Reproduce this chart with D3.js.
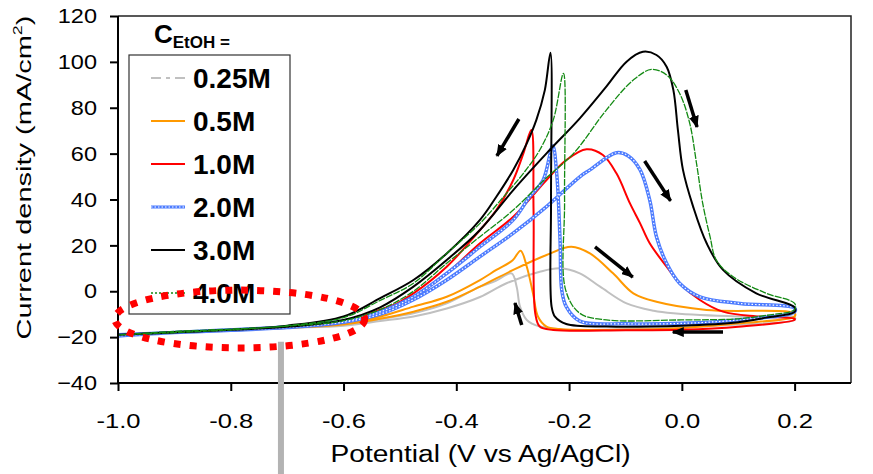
<!DOCTYPE html>
<html lang="en">
<head>
<meta charset="UTF-8">
<title>CV EtOH</title>
<script src="https://cdnjs.cloudflare.com/ajax/libs/d3/7.8.5/d3.min.js"></script>
<style>
  body { margin: 0; background: #fff; }
  svg { font-family: "Liberation Sans", Arial, sans-serif; }
  .axis path, .axis line { stroke: #000; stroke-width: 2; }
  .axis text { font-size: 21px; fill: #000; }
</style>
</head>
<body>
<svg id="chart" width="873" height="474"></svg>
<script>
// [potential V, current density mA/cm2], forward scan then reverse scan
var c025 = [[-1.0,-19.5],[-0.9,-18],[-0.8,-17],[-0.7,-16],[-0.6,-15],[-0.535,-13],[-0.476,-11],[-0.417,-7.5],
  [-0.358,-2.5],[-0.311,3.5],[-0.252,8.5],[-0.216,10],[-0.181,7.8],[-0.145,2],[-0.098,-5.3],[-0.05,-8.5],
  [-0.015,-9.6],[0.1,-11],[0.2,-11.3],
  [0.2,-12.5],[0.1,-14.5],[0.0,-15.8],[-0.1,-16.5],[-0.2,-16.9],[-0.228,-16.2],[-0.252,-15.4],[-0.275,-12.5],
  [-0.287,-6.7],[-0.293,2],[-0.302,7.8],[-0.33,4.5],[-0.358,2],[-0.417,-5.3],[-0.476,-9.6],[-0.535,-12],
  [-0.6,-14.5],[-0.7,-16],[-0.8,-17.2],[-0.9,-18.2],[-1.0,-19.5]];
var c05 = [[-1.0,-19.5],[-0.9,-18],[-0.8,-17],[-0.7,-16],[-0.6,-14.5],[-0.535,-12],[-0.476,-8.9],[-0.417,-4.6],
  [-0.358,2],[-0.299,9.3],[-0.24,15.8],[-0.196,19.4],[-0.163,16.5],[-0.122,7.8],[-0.086,-0.9],[-0.045,-4.6],
  [0.044,-8.2],[0.2,-9.6],
  [0.2,-11],[0.1,-14],[0.0,-16],[-0.1,-16.8],[-0.217,-16.5],[-0.24,-15.4],[-0.255,-11.1],[-0.264,-0.9],
  [-0.275,10.7],[-0.286,17.7],[-0.3,13.5],[-0.329,9.3],[-0.358,4.9],[-0.417,-2.4],[-0.476,-6.7],[-0.535,-11],
  [-0.6,-14],[-0.7,-15.8],[-0.8,-17],[-0.9,-18],[-1.0,-19]];
var c10 = [[-1.0,-19.5],[-0.9,-18],[-0.8,-17],[-0.7,-15.8],[-0.6,-13.5],[-0.535,-8],[-0.476,-2.4],[-0.417,7.8],
  [-0.358,20.9],[-0.299,32.5],[-0.24,48.5],[-0.205,57.2],[-0.169,61.9],[-0.14,59.4],[-0.116,51.4],[-0.092,38.3],
  [-0.074,29.6],[-0.057,20.9],[-0.027,10.7],[-0.004,3.5],[0.032,-3.8],[0.073,-8.9],[0.132,-11],[0.2,-12],
  [0.2,-12.5],[0.1,-15.5],[0.0,-16.8],[-0.1,-17],[-0.228,-16.9],[-0.252,-15.4],[-0.26,-9.6],[-0.263,35],
  [-0.267,70.3],[-0.281,60.1],[-0.299,48.5],[-0.329,35.4],[-0.358,26.7],[-0.417,10.7],[-0.476,-0.9],[-0.535,-9],
  [-0.6,-13],[-0.7,-15.5],[-0.8,-17],[-0.9,-18],[-1.0,-19]];
var c20 = [[-1.0,-19.5],[-0.9,-18],[-0.8,-17],[-0.7,-15.8],[-0.6,-13.5],[-0.535,-10],[-0.476,-3.7],[-0.417,4.9],
  [-0.358,15.1],[-0.299,25.3],[-0.24,36.9],[-0.181,49.9],[-0.163,52.9],[-0.116,60.4],[-0.095,59],[-0.074,52.9],
  [-0.057,39.8],[-0.045,23.8],[-0.027,12.2],[-0.004,3.5],[0.032,-2.4],[0.103,-5.3],[0.2,-7.4],
  [0.2,-9],[0.1,-12.5],[0.0,-14],[-0.1,-14.2],[-0.181,-13],[-0.205,-6.7],[-0.213,0.5],[-0.216,22.3],
  [-0.222,51.4],[-0.229,63.3],[-0.246,48.5],[-0.27,41.2],[-0.299,31.1],[-0.358,19.4],[-0.417,7.8],[-0.476,-2.4],
  [-0.535,-9],[-0.6,-13],[-0.7,-15.5],[-0.8,-16.8],[-0.9,-18],[-1.0,-19]];
var c30 = [[-1.0,-19],[-0.9,-17.8],[-0.8,-16.8],[-0.7,-15.5],[-0.6,-12.5],[-0.535,-7],[-0.476,2],[-0.417,13.6],
  [-0.358,26.7],[-0.299,44.1],[-0.24,60.1],[-0.181,75.4],[-0.134,89.2],[-0.098,100.1],[-0.069,104.4],[-0.045,103],
  [-0.027,97.9],[-0.015,87.7],[-0.007,70.3],[0.002,52.9],[0.02,36.9],[0.044,20.9],[0.073,9.3],[0.132,-0.9],[0.2,-7],
  [0.2,-9],[0.15,-11.5],[0.1,-13.5],[0.0,-15],[-0.134,-15.4],[-0.205,-14.3],[-0.225,-11.1],[-0.231,-6.7],
  [-0.232,40],[-0.233,104],[-0.243,87.7],[-0.258,74.7],[-0.275,64.5],[-0.299,52.9],[-0.329,41.2],[-0.358,31.1],
  [-0.417,16.5],[-0.476,4.9],[-0.535,-3],[-0.6,-11],[-0.7,-15],[-0.8,-16.8],[-0.9,-18],[-1.0,-19]];
var c40 = [[-1.0,-19],[-0.9,-17.5],[-0.8,-16.5],[-0.7,-15.2],[-0.6,-12.8],[-0.535,-8],[-0.476,0],[-0.417,12.2],
  [-0.358,23.8],[-0.299,35.4],[-0.24,49.5],[-0.192,60.1],[-0.134,79],[-0.086,92.1],[-0.054,96.7],[-0.027,94.3],
  [-0.004,86.3],[0.014,73.2],[0.026,55.8],[0.037,38.3],[0.05,23.8],[0.061,13.6],[0.091,6.3],[0.15,-0.9],[0.2,-5.3],
  [0.2,-8],[0.15,-10.5],[0.1,-12],[0.0,-12.5],[-0.134,-12.5],[-0.181,-9.6],[-0.206,0.5],[-0.208,40],[-0.21,95],
  [-0.228,74.7],[-0.252,61.6],[-0.281,51.4],[-0.311,42.7],[-0.358,29.6],[-0.417,16.5],[-0.476,3.5],[-0.535,-4],
  [-0.6,-11.5],[-0.7,-15],[-0.8,-16.8],[-0.9,-18],[-1.0,-19]];

var seriesData = [c025, c05, c10, c20, c30, c40];
var seriesNames = ['0.25M', '0.5M', '1.0M', '2.0M', '3.0M', '4.0M'];
var xTicks = [-1.0, -0.8, -0.6, -0.4, -0.2, 0.0, 0.2];
var yTicks = [-40, -20, 0, 20, 40, 60, 80, 100, 120];

// scan direction arrows [from, to] in data units
var arrows = [
  [[-0.289, 75.1], [-0.328, 59.0]],
  [[0.007, 87.7], [0.027, 71.6]],
  [[-0.066, 56.8], [-0.020, 39.4]],
  [[-0.154, 19.3], [-0.087, 6.2]],
  [[0.073, -17.8], [-0.016, -17.8]],
  [[-0.284, -14.7], [-0.296, -5.1]]
];
// highlighted region (centre, half widths) and pointer position
var ellipseC = [-0.784, -12.1], ellipseR = [0.2216, 12.6];
var pointerX = -0.711, pointerY = -22;

(function () {
  var svg = d3.select('#chart');
  var W = +svg.attr('width'), H = +svg.attr('height');
  var margin = {top: 16, right: 22, bottom: 91, left: 118};

  var x = d3.scaleLinear().domain([-1.0, 0.3]).range([margin.left, W - margin.right]);
  var y = d3.scaleLinear().domain([-40, 120]).range([H - margin.bottom, margin.top]);

  var styles = [
    {stroke: '#c0c0c0', width: 2, dash: null, legendDash: '10,5,4,5'},
    {stroke: '#ff9900', width: 2, dash: null},
    {stroke: '#ff0000', width: 2, dash: null},
    {stroke: '#4d7cff', width: 3.5, dash: null, dots: true},
    {stroke: '#000000', width: 2, dash: null},
    {stroke: '#138a13', width: 1.3, dash: '7,1.2', legendDash: '2,2'}
  ];

  var defs = svg.append('defs');
  defs.append('marker')
    .attr('id', 'head')
    .attr('markerUnits', 'userSpaceOnUse')
    .attr('viewBox', '0 0 12 10')
    .attr('refX', 11).attr('refY', 5)
    .attr('markerWidth', 12).attr('markerHeight', 10)
    .attr('orient', 'auto')
    .append('path').attr('d', 'M0,0 L12,5 L0,10 Z').attr('fill', '#000');

  // frame (top and right)
  svg.append('path')
    .attr('d', 'M' + x(-1.0) + ',' + y(120) + 'H' + x(0.3) + 'V' + y(-40))
    .attr('fill', 'none').attr('stroke', '#222').attr('stroke-width', 1.5);

  var line = d3.line()
    .x(function (d) { return x(d[0]); })
    .y(function (d) { return y(d[1]); })
    .curve(d3.curveCatmullRom.alpha(0.5));

  seriesData.forEach(function (data, i) {
    var s = styles[i];
    svg.append('path')
      .datum(data)
      .attr('fill', 'none')
      .attr('stroke', s.stroke)
      .attr('stroke-width', s.width)
      .attr('stroke-dasharray', s.dash)
      .attr('stroke-linejoin', 'round')
      .attr('d', line);
    if (s.dots) {
      svg.append('path')
        .datum(data)
        .attr('fill', 'none')
        .attr('stroke', '#fff')
        .attr('stroke-width', 1.2)
        .attr('stroke-dasharray', '1.5,2')
        .attr('d', line);
    }
  });

  // axes
  svg.append('g')
    .attr('class', 'axis')
    .attr('transform', 'translate(0,' + y(-40) + ')')
    .call(d3.axisBottom(x).tickValues(xTicks).tickSize(8).tickPadding(22)
      .tickFormat(function (d) { return d.toFixed(1); }))
    .call(function (g) { g.select('.domain').attr('d', 'M' + x(-1.0) + ',0H' + x(0.3)); })
    .selectAll('text').attr('transform', 'scale(1.22,1)');

  svg.append('g')
    .attr('class', 'axis')
    .attr('transform', 'translate(' + x(-1.0) + ',0)')
    .call(d3.axisLeft(y).tickValues(yTicks).tickSize(8).tickPadding(13))
    .call(function (g) { g.select('.domain').attr('d', 'M0,' + y(-40) + 'V' + y(120)); })
    .selectAll('text').attr('transform', 'scale(1.12,1)').attr('x', -21 / 1.12);

  svg.append('text')
    .attr('x', (x(-1.0) + x(0.3)) / 2 - 4).attr('y', 462)
    .attr('text-anchor', 'middle')
    .attr('font-size', 23)
    .attr('textLength', 300).attr('lengthAdjust', 'spacingAndGlyphs')
    .text('Potential (V vs Ag/AgCl)');

  var yt = svg.append('text')
    .attr('text-anchor', 'middle')
    .attr('font-size', 21)
    .attr('transform', 'translate(31,' + ((y(-40) + y(120)) / 2 - 22) + ') rotate(-90) scale(1.38,1)');
  yt.append('tspan').text('Current density (mA/cm');
  yt.append('tspan').attr('font-size', 13).attr('dy', -9).text('2');
  yt.append('tspan').attr('dy', 9).text(')');

  // legend
  var lg = svg.append('g');
  lg.append('rect')
    .attr('x', 129).attr('y', 55).attr('width', 161).attr('height', 259)
    .attr('fill', '#fff').attr('stroke', '#333').attr('stroke-width', 1.2);
  var title = lg.append('text').attr('x', 154).attr('y', 43).attr('font-weight', 'bold');
  title.append('tspan').attr('font-size', 26).text('C');
  title.append('tspan').attr('font-size', 17).attr('dy', 5).text('EtOH =');

  seriesNames.forEach(function (name, i) {
    var s = styles[i];
    var ly = 78 + i * 43;
    lg.append('line')
      .attr('x1', 151).attr('x2', 185).attr('y1', ly).attr('y2', ly)
      .attr('stroke', s.stroke)
      .attr('stroke-width', s.dots ? 3 : (i === 5 ? 1.5 : 2))
      .attr('stroke-dasharray', s.legendDash || null);
    if (s.dots) {
      lg.append('line')
        .attr('x1', 151).attr('x2', 185).attr('y1', ly).attr('y2', ly)
        .attr('stroke', '#fff').attr('stroke-width', 1).attr('stroke-dasharray', '1.5,2');
    }
    lg.append('text')
      .attr('x', 193).attr('y', ly + 10)
      .attr('font-size', 28).attr('font-weight', 'bold')
      .text(name);
  });

  // arrows
  arrows.forEach(function (a) {
    svg.append('line')
      .attr('x1', x(a[0][0])).attr('y1', y(a[0][1]))
      .attr('x2', x(a[1][0])).attr('y2', y(a[1][1]))
      .attr('stroke', '#000').attr('stroke-width', 3.5)
      .attr('marker-end', 'url(#head)');
  });

  // gray pointer and red dotted ellipse
  svg.append('line')
    .attr('x1', x(pointerX)).attr('x2', x(pointerX))
    .attr('y1', y(pointerY)).attr('y2', H)
    .attr('stroke', '#b3b3b3').attr('stroke-width', 6);

  svg.append('ellipse')
    .attr('cx', x(ellipseC[0])).attr('cy', y(ellipseC[1]))
    .attr('rx', x(ellipseC[0] + ellipseR[0]) - x(ellipseC[0]))
    .attr('ry', y(ellipseC[1] - ellipseR[1]) - y(ellipseC[1]))
    .attr('fill', 'none')
    .attr('stroke', '#ff0000').attr('stroke-width', 7)
    .attr('stroke-dasharray', '7,9');
})();
</script>
</body>
</html>
